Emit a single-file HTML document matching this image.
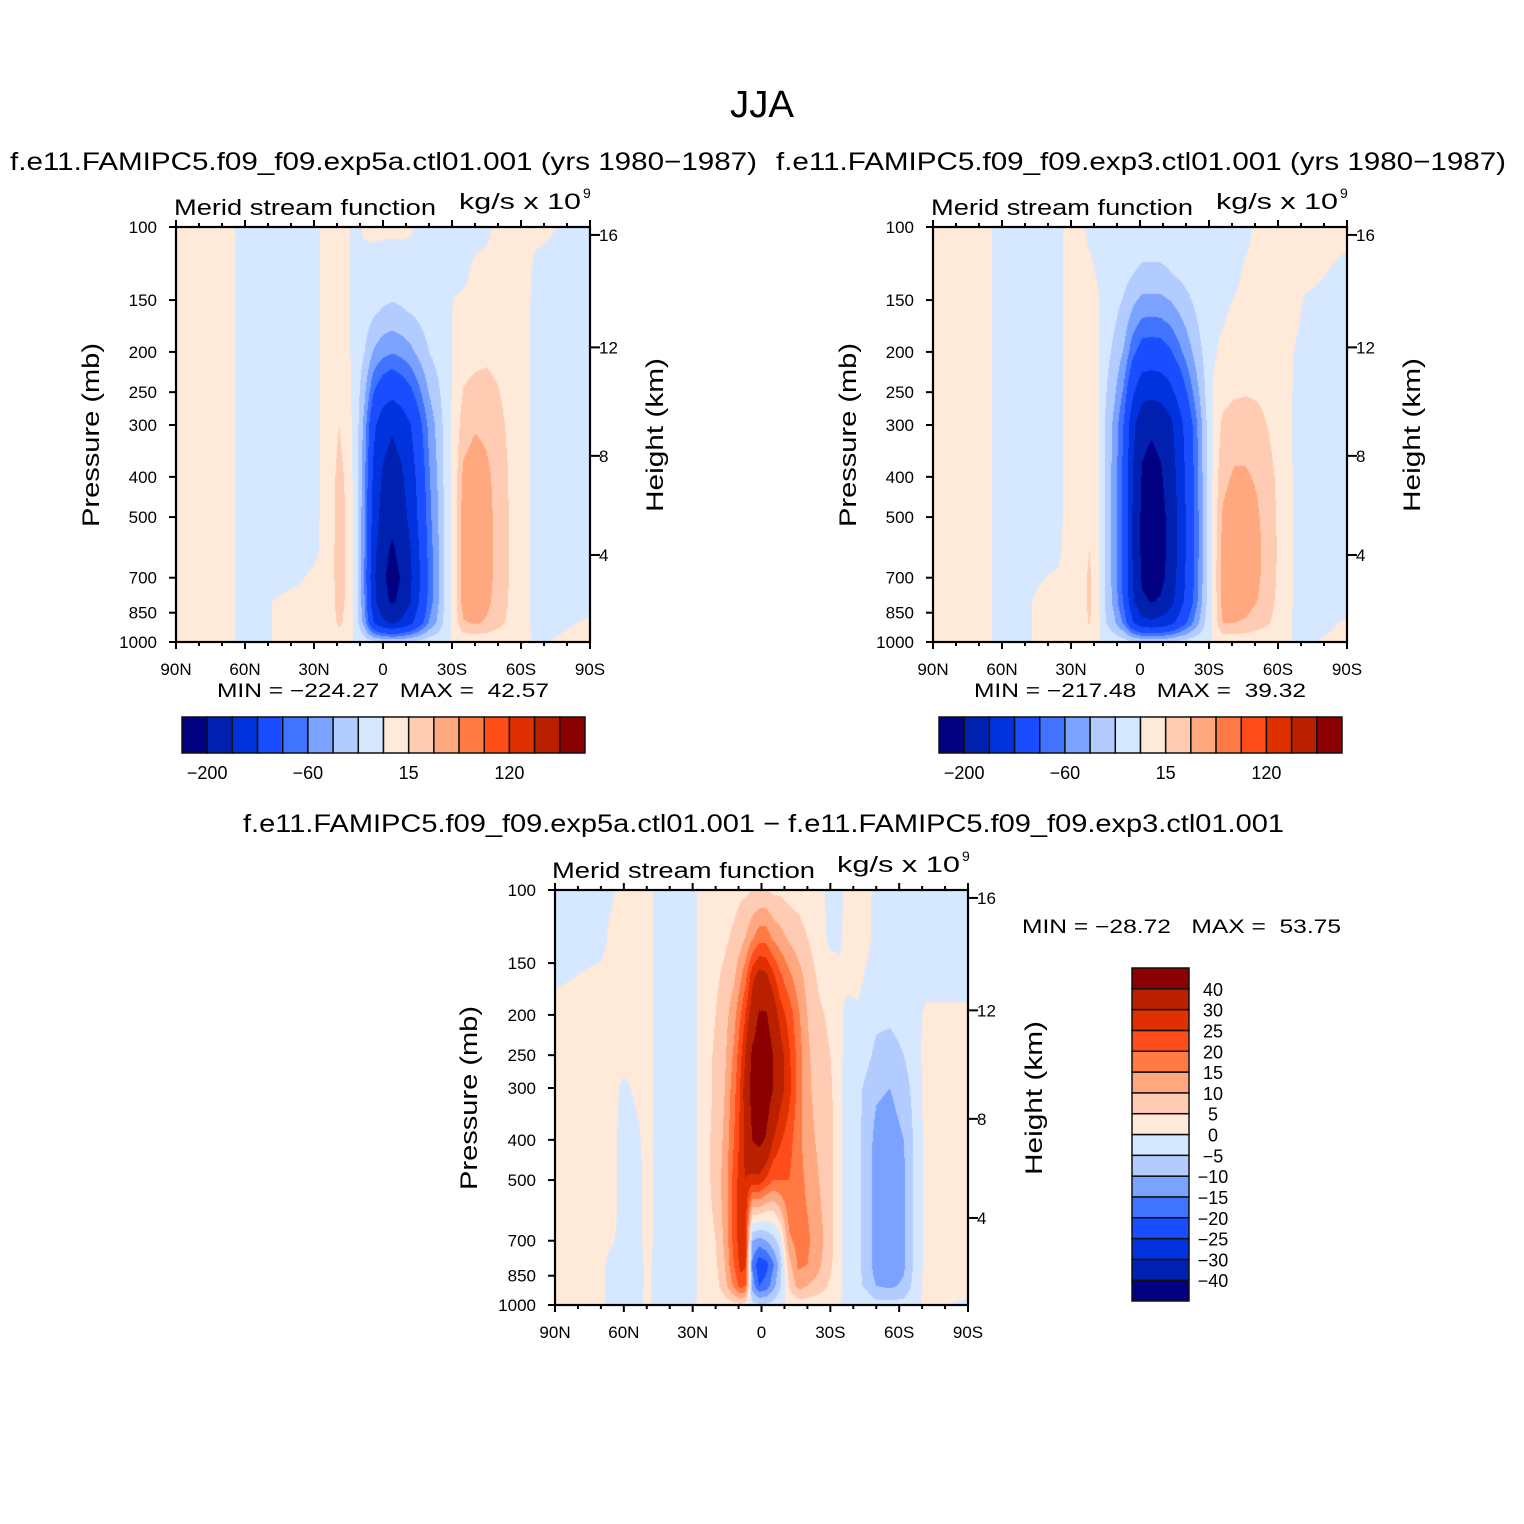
<!DOCTYPE html>
<html><head><meta charset="utf-8">
<style>
html,body{margin:0;padding:0;background:#fff;}
#wrap{position:relative;width:1524px;height:1524px;overflow:hidden;background:#fff;}
canvas{position:absolute;}
svg{position:absolute;left:0;top:0;}
text{font-family:"Liberation Sans",sans-serif;fill:#000;}
</style></head>
<body>
<div id="wrap">
<canvas id="c1" width="414" height="415" style="left:176px;top:227px"></canvas>
<canvas id="c2" width="414" height="415" style="left:933px;top:227px"></canvas>
<canvas id="c3" width="413" height="415" style="left:555px;top:890px"></canvas>
<svg id="svg" width="1524" height="1524" xmlns="http://www.w3.org/2000/svg">
<text x="762" y="117" font-size="38" text-anchor="middle" textLength="64" lengthAdjust="spacingAndGlyphs">JJA</text>
<text x="10" y="170" font-size="25" textLength="747" lengthAdjust="spacingAndGlyphs">f.e11.FAMIPC5.f09_f09.exp5a.ctl01.001 (yrs 1980−1987)</text>
<text x="776" y="170" font-size="25" textLength="730" lengthAdjust="spacingAndGlyphs">f.e11.FAMIPC5.f09_f09.exp3.ctl01.001 (yrs 1980−1987)</text>
<text x="243" y="832" font-size="25" textLength="1041" lengthAdjust="spacingAndGlyphs">f.e11.FAMIPC5.f09_f09.exp5a.ctl01.001 − f.e11.FAMIPC5.f09_f09.exp3.ctl01.001</text>

<text x="174" y="215" font-size="22" textLength="262" lengthAdjust="spacingAndGlyphs">Merid stream function</text>
<text x="459" y="209" font-size="22" textLength="122" lengthAdjust="spacingAndGlyphs">kg/s x 10</text>
<text x="583" y="198" font-size="14">9</text>
<text x="931" y="215" font-size="22" textLength="262" lengthAdjust="spacingAndGlyphs">Merid stream function</text>
<text x="1216" y="209" font-size="22" textLength="122" lengthAdjust="spacingAndGlyphs">kg/s x 10</text>
<text x="1340" y="198" font-size="14">9</text>
<text x="552" y="878" font-size="22" textLength="263" lengthAdjust="spacingAndGlyphs">Merid stream function</text>
<text x="837" y="872" font-size="22" textLength="123" lengthAdjust="spacingAndGlyphs">kg/s x 10</text>
<text x="962" y="861" font-size="14">9</text>

<text transform="translate(99,435) rotate(-90)" font-size="24" text-anchor="middle" textLength="184" lengthAdjust="spacingAndGlyphs">Pressure (mb)</text>
<text transform="translate(663,435) rotate(-90)" font-size="24" text-anchor="middle" textLength="154" lengthAdjust="spacingAndGlyphs">Height (km)</text>
<text transform="translate(856,435) rotate(-90)" font-size="24" text-anchor="middle" textLength="184" lengthAdjust="spacingAndGlyphs">Pressure (mb)</text>
<text transform="translate(1420,435) rotate(-90)" font-size="24" text-anchor="middle" textLength="154" lengthAdjust="spacingAndGlyphs">Height (km)</text>
<text transform="translate(477,1098) rotate(-90)" font-size="24" text-anchor="middle" textLength="184" lengthAdjust="spacingAndGlyphs">Pressure (mb)</text>
<text transform="translate(1042,1098) rotate(-90)" font-size="24" text-anchor="middle" textLength="154" lengthAdjust="spacingAndGlyphs">Height (km)</text>

<text x="217" y="697" font-size="19" textLength="332" lengthAdjust="spacingAndGlyphs" xml:space="preserve">MIN = −224.27   MAX =  42.57</text>
<text x="974" y="697" font-size="19" textLength="332" lengthAdjust="spacingAndGlyphs" xml:space="preserve">MIN = −217.48   MAX =  39.32</text>
<text x="1022" y="933" font-size="19" textLength="319" lengthAdjust="spacingAndGlyphs" xml:space="preserve">MIN = −28.72   MAX =  53.75</text>
</svg>
</div>
<script>
const colors = ['#000080','#0021b0','#0033dd','#1a4dff','#4073ff','#7aa2ff','#b3ccff','#d6e8ff','#ffe9d8','#ffccb3','#ffa880','#ff7a45','#ff4d1a','#e03000','#b82000','#8b0000'];
const levelsFull = [-200,-160,-120,-80,-60,-40,-20,0,15,30,60,90,120,150,180];
const levelsDiff = [-40,-30,-25,-20,-15,-10,-5,0,5,10,15,20,25,30,40];
const pLevels = [100,130,160,200,250,300,400,500,600,700,800,900,1000];
const pTicks = [100,150,200,250,300,400,500,700,850,1000];
const kmTicks = [4,8,12,16];
const kmPressure = [617,356,195,104.5];
const latTickLabels = ['90N','60N','30N','0','30S','60S','90S'];
const latTickValues = [90,60,30,0,-30,-60,-90];

const lats1 = [90,66,62,38,30,26,22,19,16,12,8,4,0,-4,-8,-12,-16,-20,-24,-28,-31,-35,-40,-45,-50,-56,-62,-66,-90];
const vals1 = [
[4,4,4,4,4,4,4,4,4,4,4,4,4],
[3,3,3,3,3,3,3,3,3,3,3,3,3],
[-4,-4,-4,-4,-4,-4,-4,-4,-4,-4,-4,-4,-4],
[-4,-4,-4,-4,-4,-4,-4,-4,-3,-2,3,3,3],
[-3,-3,-3,-3,-3,-3,-3,-3,-3,2,4,4,3],
[2,2,2,2,2,2,2,2,3,4,4,4,3],
[4,5,5,6,8,10,12,12,12,12,12,10,3],
[4,5,6,8,11,15,19,21,22,22,21,18,4],
[2,3,4,5,7,9,13,14,14,14,13,11,3],
[-3,-4,-5,-6,-6,-6,-6,-6,-6,-6,-6,-5,-1],
[2,-5,-9,-20,-36,-48,-55,-58,-60,-62,-60,-50,-6],
[3,-6,-17,-42,-80,-112,-130,-138,-148,-153,-148,-119,-15],
[3,-8,-22,-53,-101,-143,-166,-177,-189,-195,-189,-152,-18],
[3,-9,-24,-58,-110,-155,-180,-192,-205,-212,-205,-165,-20],
[3,-8,-22,-53,-101,-143,-166,-177,-189,-198,-192,-152,-18],
[2,-7,-19,-45,-86,-121,-140,-150,-160,-165,-160,-129,-16],
[-4,-7,-14,-33,-63,-88,-103,-109,-117,-121,-117,-94,-12],
[-4,-5,-9,-20,-39,-54,-63,-67,-72,-74,-72,-58,-7],
[-4,-4,-6,-12,-24,-32,-37,-40,-42,-43,-42,-35,-5],
[-4,-4,-4,-5,-6,-7,-7,-7,-7,-7,-7,-6,-2],
[-4,-3,2,3,4,5,6,7,7,7,6,5,2],
[-4,-2,3,8,16,22,34,38,40,40,38,28,3],
[-3,2,5,10,20,28,40,42,44,44,42,32,3],
[-2,3,6,12,20,26,34,36,36,36,34,28,3],
[2,4,6,10,16,20,24,25,25,25,24,20,3],
[3,4,5,6,8,10,12,12,12,12,12,10,3],
[3,3,3,3,3,3,3,3,3,3,3,3,2],
[2,-2,-3,-3,-3,-3,-3,-3,-3,-3,-3,-3,-1],
[-3,-3,-3,-3,-3,-3,-3,-3,-3,-3,-3,1,3]
];

const lats2 = [90,66,62,36,32,26,22,18,15,11,7,3,-1,-5,-9,-13,-17,-21,-25,-29,-32,-36,-41,-46,-51,-56,-62,-68,-72,-90];
const vals2 = [
[4,4,4,4,4,4,4,4,4,4,4,4,4],
[3,3,3,3,3,3,3,3,3,3,3,3,3],
[-4,-4,-4,-4,-4,-4,-4,-4,-4,-4,-4,-4,-4],
[-3,-3,-3,-3,-3,-3,-3,-3,-2,1,3,3,3],
[2,2,2,2,2,2,2,2,2,3,3,3,3],
[2,3,3,3,3,3,3,3,5,7,8,7,3],
[-2,2,4,4,4,4,4,6,15,18,18,16,3],
[-3,-1,1,1,1,1,1,1,2,3,3,3,1],
[-5,-6,-9,-13,-18,-22,-23,-23,-23,-23,-22,-18,-4],
[-6,-9,-16,-25,-37,-47,-50,-51,-51,-50,-48,-37,-6],
[-7,-13,-26,-42,-64,-82,-88,-90,-90,-89,-84,-64,-10],
[-8,-20,-43,-74,-116,-150,-162,-166,-166,-163,-154,-116,-16],
[-8,-24,-54,-93,-146,-190,-204,-209,-209,-206,-194,-146,-20],
[-8,-24,-55,-95,-150,-195,-212,-218,-218,-214,-202,-152,-20],
[-8,-24,-54,-93,-146,-190,-204,-212,-214,-210,-196,-146,-20],
[-8,-21,-48,-84,-132,-172,-185,-190,-190,-187,-176,-132,-18],
[-7,-17,-39,-66,-105,-137,-147,-151,-151,-148,-140,-105,-14],
[-6,-12,-28,-48,-75,-98,-105,-108,-108,-106,-100,-75,-10],
[-5,-8,-17,-29,-45,-59,-63,-65,-65,-64,-60,-45,-6],
[-4,-5,-7,-11,-15,-20,-21,-22,-22,-21,-20,-15,-3],
[-4,-4,-3,-2,2,3,4,5,5,5,5,4,2],
[-4,-4,-2,3,10,18,26,32,36,38,36,30,4],
[-4,-3,2,6,13,22,32,38,42,42,40,30,4],
[-3,2,4,8,14,22,32,38,40,40,36,28,4],
[2,3,5,8,13,20,28,32,34,33,30,22,3],
[3,3,4,6,10,14,20,22,23,22,20,16,3],
[3,3,3,4,5,6,8,9,9,9,8,7,2],
[3,3,2,-1,-2,-3,-3,-3,-3,-3,-3,-3,-1],
[3,2,-2,-4,-4,-4,-4,-4,-4,-4,-4,-4,-1],
[2,-2,-3,-3,-3,-3,-3,-3,-3,-3,-3,1,3]
];

const lats3 = [90,70,66,60,54,50,46,30,27,20,16,12,9,7,4,1,-2,-5,-8,-12,-16,-20,-25,-30,-34,-38,-42,-46,-50,-56,-62,-66,-72,-90];
const vals3 = [
[-2,-2,-1,2,2,2,2,2,2,2,2,2,1],
[-2,-2,1,2,2,2,2,2,2,2,2,2,1],
[-1,1,2,2,2,2,2,2,2,1,-2,-2,-1],
[2,2,2,2,2,-1,-2,-2,-2,-2,-2,-2,-1],
[2,2,2,2,2,1,-1,-2,-2,-2,-2,-2,-1],
[2,2,2,2,2,2,2,2,2,2,1,1,1],
[-1,-1,-1,-1,-1,-1,-1,-1,-1,-1,-1,-1,-1],
[-2,-2,-2,-2,-2,-2,-2,-2,-2,-2,-2,-2,-1],
[1,1,1,1,1,1,1,1,1,1,1,1,1],
[2,3,4,5,6,6,7,7,6,5,4,3,1],
[3,4,6,8,9,10,11,12,12,11,10,8,2],
[3,6,9,13,16,18,20,22,22,22,20,16,3],
[4,8,14,20,24,26,27,28,28,28,27,22,4],
[4,10,18,25,30,33,32,30,28,27,26,20,3],
[5,14,28,34,42,44,40,28,6,-10,-16,-12,-3],
[5,18,32,41,46,48,43,28,6,-12,-24,-20,-4],
[5,18,31,41,46,47,39,24,4,-10,-22,-18,-4],
[4,14,26,35,40,40,30,20,4,-7,-16,-12,-3],
[4,12,21,28,33,33,26,20,8,-3,-8,-6,-1],
[3,9,16,23,26,27,22,20,17,14,8,5,1],
[3,7,12,16,18,18,17,17,17,17,16,12,2],
[2,5,8,10,11,11,12,14,15,16,15,10,2],
[1,2,4,6,7,8,9,10,11,12,11,8,1],
[-1,-1,2,4,5,6,7,7,7,7,6,4,1],
[-2,-1,1,1,1,1,1,1,1,1,1,1,0],
[3,3,2,-2,-2,-3,-3,-3,-3,-3,-3,-3,-1],
[3,3,2,-1,-3,-4,-4,-4,-4,-4,-4,-4,-2],
[2,2,-1,-3,-4,-6,-7,-7,-7,-7,-7,-6,-2],
[-2,-3,-3,-4,-6,-9,-12,-13,-13,-13,-13,-10,-3],
[-2,-3,-3,-4,-7,-10,-13,-14,-15,-14,-14,-11,-3],
[-2,-3,-3,-3,-5,-7,-10,-11,-11,-11,-11,-9,-3],
[-2,-2,-2,-2,-3,-4,-5,-5,-5,-5,-5,-4,-1],
[-2,-2,-2,1,2,2,2,2,2,2,2,2,1],
[-2,-2,-2,1,2,2,2,2,2,2,2,2,-1]
];

function hexRGB(h){return [parseInt(h.substr(1,2),16),parseInt(h.substr(3,2),16),parseInt(h.substr(5,2),16)];}
const rgb = colors.map(hexRGB);

function drawField(id, lats, vals, levels){
  const cv = document.getElementById(id);
  const ctx = cv.getContext('2d');
  const W = cv.width, H = cv.height;
  const img = ctx.createImageData(W, H);
  const logP = pLevels.map(p => Math.log10(p));
  for (let i = 0; i < W; i++){
    const lat = 90 - (i + 0.5) / W * 180;
    let k = 0;
    while (k < lats.length - 2 && lat < lats[k+1]) k++;
    const tx = (lats[k] - lat) / (lats[k] - lats[k+1]);
    for (let j = 0; j < H; j++){
      const lp = 2 + (j + 0.5) / H;
      let r = 0;
      while (r < logP.length - 2 && lp > logP[r+1]) r++;
      const ty = (lp - logP[r]) / (logP[r+1] - logP[r]);
      const v00 = vals[k][r], v10 = vals[k+1][r], v01 = vals[k][r+1], v11 = vals[k+1][r+1];
      const v = (v00*(1-tx) + v10*tx)*(1-ty) + (v01*(1-tx) + v11*tx)*ty;
      let b = 0;
      while (b < levels.length && v >= levels[b]) b++;
      const c = rgb[b];
      const o = (j*W + i)*4;
      img.data[o] = c[0]; img.data[o+1] = c[1]; img.data[o+2] = c[2]; img.data[o+3] = 255;
    }
  }
  ctx.putImageData(img, 0, 0);
}
drawField('c1', lats1, vals1, levelsFull);
drawField('c2', lats2, vals2, levelsFull);
drawField('c3', lats3, vals3, levelsDiff);

const svg = document.getElementById('svg');
const NS = 'http://www.w3.org/2000/svg';
function mk(tag, attrs){
  const e = document.createElementNS(NS, tag);
  for (const a in attrs) e.setAttribute(a, attrs[a]);
  svg.appendChild(e);
  return e;
}
function fmt(v){return v < 0 ? '\u2212' + Math.abs(v) : String(v);}

function axes(pfx, L, T, W, H){
  const xOf = lat => L + (90 - lat) / 180 * W;
  const yOf = p => T + Math.log10(p / 100) * H;
  for (let lat = 90; lat >= -90; lat -= 10){
    const len = (lat % 30 === 0) ? 7 : 4;
    const x = xOf(lat);
    const t1 = mk('line', {x1:x, y1:T, x2:x, y2:T-len, stroke:'#000', 'stroke-width':2});
    
    
    const t2 = mk('line', {x1:x, y1:T+H, x2:x, y2:T+H+len, stroke:'#000', 'stroke-width':2});
    
    
  }
  latTickValues.forEach((lat, i) => {
    const t = mk('text', {x:xOf(lat), y:T+H+33, 'font-size':17, 'text-anchor':'middle'});
    t.textContent = latTickLabels[i];
    
    
  });
  pTicks.forEach(p => {
    const y = yOf(p);
    const tk = mk('line', {x1:L, y1:y, x2:L-7, y2:y, stroke:'#000', 'stroke-width':2});
    
    
    const t = mk('text', {x:L-19, y:y+6, 'font-size':17, 'text-anchor':'end'});
    t.textContent = String(p);
    
    
  });
  kmTicks.forEach((km, i) => {
    const y = yOf(kmPressure[i]);
    const tk = mk('line', {x1:L+W, y1:y, x2:L+W+10, y2:y, stroke:'#000', 'stroke-width':2});
    
    
    const t = mk('text', {x:L+W+9, y:y+6, 'font-size':17});
    t.textContent = String(km);
    
    
  });
  const box = mk('rect', {x:L, y:T, width:W, height:H, fill:'none', stroke:'#000', 'stroke-width':2.2});
  
  
}
axes('panel1', 176, 227, 414, 415);
axes('panel2', 933, 227, 414, 415);
axes('panel3', 555, 890, 413, 415);

function hbar(pfx, L, T, W, H, levels){
  const bw = W / colors.length;
  colors.forEach((c, i) => {
    const r = mk('rect', {x:L+i*bw, y:T, width:bw, height:H, fill:c, stroke:'#111', 'stroke-width':1.5});
    
    
  });
  levels.forEach((v, k) => {
    if (k % 4 !== 0) return;
    const t = mk('text', {x:L+(k+1)*bw, y:T+H+26, 'font-size':18, 'text-anchor':'middle'});
    t.textContent = fmt(v);
    
    
  });
}
hbar('panel1', 182, 717, 403, 36, levelsFull);
hbar('panel2', 939, 717, 403, 36, levelsFull);

function vbar(pfx, L, T, W, H, levels){
  const n = colors.length, bh = H / n;
  colors.forEach((c, i) => {
    const r = mk('rect', {x:L, y:T+H-(i+1)*bh, width:W, height:bh, fill:c, stroke:'#111', 'stroke-width':1.5});
    
    
  });
  levels.forEach((v, k) => {
    const t = mk('text', {x:L+W+24, y:T+H-(k+1)*bh+7, 'font-size':18, 'text-anchor':'middle'});
    t.textContent = fmt(v);
    
    
  });
}
vbar('panel3', 1132, 968, 57, 333, levelsDiff);
</script>
</body></html>
